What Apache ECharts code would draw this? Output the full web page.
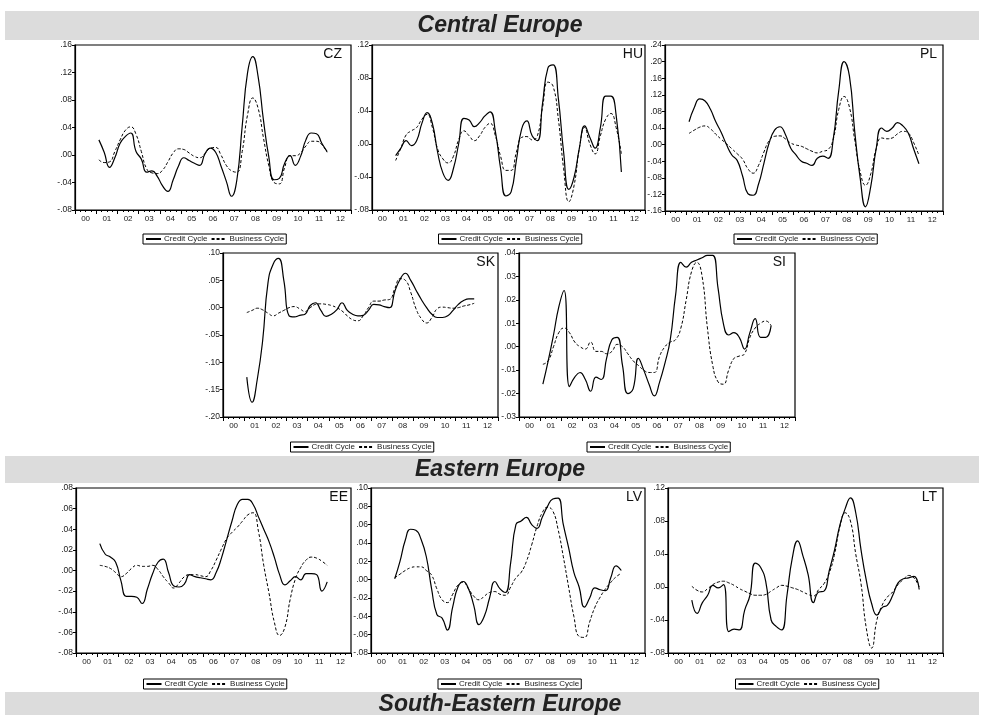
<!DOCTYPE html>
<html>
<head>
<meta charset="utf-8">
<title>Credit and business cycles</title>
<script src="https://cdn.jsdelivr.net/npm/echarts@6/dist/echarts.min.js"></script>
<style>
    html, body { margin: 0; padding: 0; background: #fff; }
    #main { width: 984px; height: 715px; }
</style>
</head>
<body>
<div id="main"></div>
<script>
//年份刻度
var yearLabels = ['00', '01', '02', '03', '04', '05', '06', '07', '08', '09', '10', '11', '12'];
var quarterNames = ['Q1', 'Q2', 'Q3', 'Q4'];
//序列从 2001Q1 开始 (第5个季度)
var firstQuarter = 4;
var seriesNames = ['Credit Cycle', 'Business Cycle'];
var regionTitles = ['Central Europe', 'Eastern Europe', 'South-Eastern Europe'];

//季度数据 2001Q1 - 2011Q4
var czCredit = [.022, .004, -.018, -.004, .017, .027, .032, .005, -.006, -.025, -.023, -.031, -.045, -.053, -.036, -.016, -.004, -.008, -.012, -.015, .002, .010, .004, -.016, -.038, -.060, -.036, .042, .119, .143, .114, .051, -.002, -.036, -.034, -.012, -.001, -.015, -.002, .022, .032, .031, .017, .005];
var czBusiness = [-.007, -.011, -.010, .005, .022, .036, .041, .030, .005, -.020, -.026, -.027, -.022, -.010, .003, .009, .008, .003, -.002, -.004, .002, .010, .011, .000, -.015, -.023, -.025, .005, .058, .083, .068, .025, -.015, -.040, -.042, -.018, -.001, -.001, .003, .013, .020, .020, .015, .004];

var huCredit = [-.014, -.005, .004, -.002, .004, .025, .038, .025, -.010, -.035, -.044, -.030, .000, .031, .029, .021, .026, .034, .039, .015, -.030, -.063, -.058, -.020, .018, .028, .010, .004, .050, .092, .096, .055, -.010, -.055, -.040, -.005, .022, .008, -.005, .020, .058, .058, .035, -.034];
var huBusiness = [-.020, -.005, .011, .016, .020, .030, .036, .020, -.006, -.018, -.023, -.015, .005, .016, .010, .004, .010, .020, .025, .010, -.015, -.032, -.032, -.010, .008, .009, .005, .010, .045, .075, .070, .030, -.030, -.070, -.050, -.005, .020, .000, -.012, .010, .030, .037, .020, -.012];

var plCredit = [.055, .090, .110, .105, .085, .055, .030, .000, -.025, -.038, -.075, -.118, -.122, -.095, -.045, .005, .035, .043, .025, -.008, -.025, -.040, -.045, -.050, -.033, -.028, -.033, .016, .130, .200, .165, .030, -.080, -.150, -.100, -.010, .040, .032, .040, .053, .045, .028, -.010, -.046];
var plBusiness = [.027, .035, .042, .045, .038, .025, .013, .002, -.010, -.022, -.035, -.058, -.069, -.050, -.018, .010, .020, .021, .014, .004, -.001, -.004, -.010, -.016, -.020, -.016, -.012, .015, .085, .116, .090, .010, -.065, -.098, -.070, -.010, .016, .014, .016, .026, .032, .028, .005, -.026];

var skCredit = [-.127, -.173, -.130, -.060, .045, .080, .090, .050, -.015, -.017, -.014, -.012, .004, .009, -.005, -.016, -.012, -.004, .009, -.005, -.012, -.015, -.014, -.005, .006, .005, .002, .000, .030, .052, .063, .050, .032, .015, .000, -.012, -.018, -.018, -.015, -.005, .006, .013, .016, .016];
var skBusiness = [-.009, -.005, -.001, -.004, -.010, -.015, -.010, -.005, .000, .002, -.002, -.007, .000, .006, .007, .006, .004, .000, -.006, -.015, -.022, -.024, -.015, .000, .012, .012, .014, .015, .035, .053, .050, .028, -.002, -.020, -.028, -.018, -.002, .001, .000, -.001, .000, .003, .005, .008];

var siCredit = [-.016, -.006, .005, .017, .024, -.017, -.013, -.011, -.014, -.019, -.013, -.014, -.005, .003, .004, -.008, -.020, -.018, -.005, -.010, -.016, -.021, -.015, -.007, .003, .022, .036, .034, .036, .037, .038, .039, .039, .025, .010, .005, .006, .004, -.001, .006, .012, .004, .004, .009];
var siBusiness = [-.0075, -.006, .000, .006, .008, .006, .002, .000, -.001, .002, -.002, -.002, -.003, -.002, .001, .000, -.003, -.006, -.008, -.010, -.011, -.011, -.004, .000, .002, .003, .008, .020, .032, .036, .030, .008, -.008, -.015, -.016, -.010, -.005, -.004, -.003, .004, .008, .010, .011, .009];

var eeCredit = [.026, .016, .013, .008, -.010, -.025, -.025, -.026, -.032, -.018, -.003, .008, .011, -.002, -.015, -.016, -.013, -.004, -.006, -.007, -.008, -.009, -.002, .012, .030, .048, .064, .069, .069, .064, .052, .040, .028, .013, -.004, -.014, -.010, -.006, -.009, -.003, -.003, -.004, -.020, -.011];
var eeBusiness = [.005, .004, .002, -.002, -.006, -.003, .002, .005, .004, .004, .005, .001, -.006, -.012, -.017, -.012, -.006, -.004, -.004, -.005, -.006, .000, .010, .021, .031, .037, .042, .048, .054, .056, .038, .005, -.022, -.050, -.063, -.055, -.028, -.008, .003, .010, .013, .012, .009, .005];

var lvCredit = [.001, .020, .043, .055, .054, .044, .025, -.010, -.038, -.042, -.055, -.030, -.008, -.002, -.010, -.028, -.049, -.040, -.020, -.002, -.010, -.014, .018, .060, .064, .068, .060, .056, .068, .080, .088, .089, .060, .035, .008, -.008, -.030, -.020, -.009, -.011, -.012, .002, .015, .010];
var lvBusiness = [.002, .006, .010, .013, .014, .014, .010, .005, -.010, -.022, -.025, -.016, -.006, -.003, -.010, -.018, -.022, -.018, -.014, -.013, -.016, -.017, -.008, .002, .008, .020, .038, .058, .073, .079, .075, .055, .025, -.008, -.040, -.062, -.063, -.046, -.030, -.019, -.010, -.003, .003, .007];

var ltCredit = [-.016, -.032, -.019, -.010, .002, -.001, .003, -.054, -.051, -.052, -.028, -.010, .029, .024, .006, -.040, -.048, -.052, -.010, .035, .056, .038, .015, -.019, -.006, -.005, .020, .045, .075, .095, .108, .090, .045, .008, -.020, -.034, -.025, -.022, -.010, .005, .010, .011, .013, -.003];
var ltBusiness = [.001, -.004, -.006, -.002, .003, .006, .007, .005, .002, -.002, -.005, -.008, -.010, -.010, -.009, -.005, -.001, .002, .001, -.001, -.003, -.006, -.009, -.011, -.003, .004, .017, .040, .073, .090, .080, .040, .004, -.050, -.074, -.040, -.022, -.012, -.006, .003, .009, .014, .011, .000];

//坐标轴范围
var yMin = [-0.08, -0.08, -0.16, -0.20, -0.03, -0.08, -0.08, -0.08];
var yMax = [0.16, 0.12, 0.24, 0.10, 0.04, 0.08, 0.10, 0.12];
var yStep = [0.04, 0.04, 0.04, 0.05, 0.01, 0.02, 0.02, 0.04];

//面板 位置
var Panels = [
    {code: 'CZ', credit: czCredit, business: czBusiness, left: 75, top: 45, width: 276, height: 165, legendTop: 234, tag: 9},
    {code: 'HU', credit: huCredit, business: huBusiness, left: 372, top: 45, width: 273, height: 165, legendTop: 234, tag: 2},
    {code: 'PL', credit: plCredit, business: plBusiness, left: 665, top: 45, width: 278, height: 166, legendTop: 234, tag: 6},
    {code: 'SK', credit: skCredit, business: skBusiness, left: 223, top: 253, width: 275, height: 164, legendTop: 442, tag: 3},
    {code: 'SI', credit: siCredit, business: siBusiness, left: 519, top: 253, width: 276, height: 164, legendTop: 442, tag: 9},
    {code: 'EE', credit: eeCredit, business: eeBusiness, left: 76, top: 488, width: 275, height: 165, legendTop: 679, tag: 3},
    {code: 'LV', credit: lvCredit, business: lvBusiness, left: 371, top: 488, width: 274, height: 165, legendTop: 679, tag: 3},
    {code: 'LT', credit: ltCredit, business: ltBusiness, left: 668, top: 488, width: 275, height: 165, legendTop: 679, tag: 6}
];

//标题条
var Bands = [
    {y: 11, h: 29, textY: 26},
    {y: 456, h: 27, textY: 470},
    {y: 692, h: 30, textY: 705}
];

var FONT = '"Liberation Sans", Arial, sans-serif';
var INK = '#1a1a1a';

//季度类目
var quarters = [];
for (var y = 0; y < yearLabels.length; y++) {
    for (var q = 0; q < quarterNames.length; q++) {
        quarters.push(yearLabels[y] + quarterNames[q]);
    }
}

function PadSeries(values) {
    var out = [];
    for (var i = 0; i < firstQuarter; i++) out.push(null);
    return out.concat(values);
}

//y轴标签 .04 / -.04
function TickText(v) {
    var s = Math.abs(v).toFixed(2).replace(/^0/, '');
    return (v < -1e-9 ? '-' : '') + s;
}

function BuildOption() {
    var grid = [], xAxis = [], yAxis = [], series = [], legend = [], graphic = [];

    for (var b = 0; b < Bands.length; b++) {
        graphic.push({
            type: 'rect', z: -10,
            shape: {x: 5, y: Bands[b].y, width: 974, height: Bands[b].h},
            style: {fill: '#dcdcdc'}
        });
        graphic.push({
            type: 'text', z: 10, x: 500, y: Bands[b].textY,
            style: {
                text: regionTitles[b], fill: '#222',
                font: 'italic bold 23px ' + FONT,
                textAlign: 'center', textVerticalAlign: 'middle',
                align: 'center', verticalAlign: 'middle'
            }
        });
    }

    for (var i = 0; i < Panels.length; i++) {
        var p = Panels[i];
        grid.push({
            left: p.left, top: p.top, width: p.width, height: p.height,
            show: true, borderColor: '#000', borderWidth: 1.2, backgroundColor: 'transparent'
        });
        //季度 小刻度
        xAxis.push({
            type: 'category', gridIndex: i, position: 'bottom', data: quarters, boundaryGap: true,
            axisLine: {show: true, onZero: false, lineStyle: {color: '#000', width: 1.2}},
            axisTick: {show: true, interval: 0, length: 2, lineStyle: {color: '#000'}},
            axisLabel: {show: false},
            splitLine: {show: false}
        });
        //年份 大刻度 + 标签
        xAxis.push({
            type: 'category', gridIndex: i, position: 'bottom', data: yearLabels, boundaryGap: true,
            axisLine: {show: false, onZero: false},
            axisTick: {show: true, interval: 0, length: 4, lineStyle: {color: '#000'}},
            axisLabel: {show: true, interval: 0, fontSize: 8, color: INK, fontFamily: FONT, margin: 5},
            splitLine: {show: false}
        });
        yAxis.push({
            type: 'value', gridIndex: i, min: yMin[i], max: yMax[i], interval: yStep[i],
            axisLine: {show: true, onZero: false, lineStyle: {color: '#000', width: 1.2}},
            axisTick: {show: true, length: 3, lineStyle: {color: '#000'}},
            axisLabel: {fontSize: 8.5, color: INK, fontFamily: FONT, margin: 3, formatter: TickText},
            splitLine: {show: false}
        });
        series.push({
            name: seriesNames[0], type: 'line', xAxisIndex: 2 * i, yAxisIndex: i,
            data: PadSeries(p.credit), smooth: 0.5, symbol: 'none', connectNulls: false,
            lineStyle: {color: '#000', width: 1.2, type: 'solid'},
            itemStyle: {color: '#000'}
        });
        series.push({
            name: seriesNames[1], type: 'line', xAxisIndex: 2 * i, yAxisIndex: i,
            data: PadSeries(p.business), smooth: 0.5, symbol: 'none', connectNulls: false,
            lineStyle: {color: '#000', width: 1, type: [3, 2]},
            itemStyle: {color: '#000'}
        });
        legend.push({
            data: seriesNames, selectedMode: false,
            left: p.left + p.width / 2 - 70, top: p.legendTop,
            orient: 'horizontal', padding: [1, 2, 1, 2], itemGap: 3,
            itemWidth: 15, itemHeight: 6,
            itemStyle: {opacity: 0},
            borderColor: '#000', borderWidth: 1, borderRadius: 0,
            textStyle: {fontSize: 8, color: INK, fontFamily: FONT, padding: [0, 0, 0, -2]}
        });
        //国家代码
        graphic.push({
            type: 'text', z: 10, x: p.left + p.width - p.tag, y: p.top + 2,
            style: {
                text: p.code, fill: '#111', font: '14px ' + FONT,
                textAlign: 'right', textVerticalAlign: 'top',
                align: 'right', verticalAlign: 'top'
            }
        });
    }

    return {
        backgroundColor: '#fff',
        animation: false,
        grid: grid,
        xAxis: xAxis,
        yAxis: yAxis,
        legend: legend,
        series: series,
        graphic: graphic
    };
}

var Chart = echarts.init(document.getElementById('main'), null, {renderer: 'canvas'});
Chart.setOption(BuildOption());
</script>
</body>
</html>
